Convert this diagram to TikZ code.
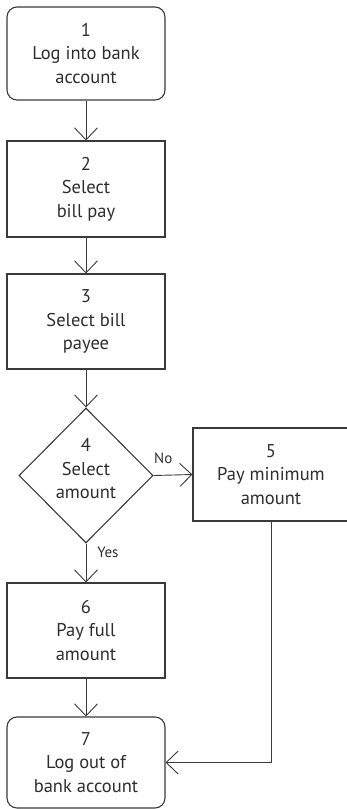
\documentclass[tikz,border=0pt]{standalone}
\usepackage{fontspec}
\setmainfont{PT Sans}
\usetikzlibrary{shapes.geometric,arrows.meta}
\definecolor{ink}{HTML}{3A3A3A}
\definecolor{txt}{HTML}{2E2E2E}
\begin{document}
\begin{tikzpicture}[x=1pt,y=-1pt,
  box/.style={draw=ink, line width=1.1pt, fill=white, minimum width=158pt, align=center,
    text=txt, font=\fontsize{18.5}{23.5}\selectfont, inner sep=0pt},
  rbox/.style={box, rounded corners=10pt},
  dbox/.style={draw=ink, line width=1.1pt, diamond, minimum width=134pt, minimum height=135pt, inner sep=0pt},
  dtext/.style={align=center, text=txt, font=\fontsize{18.5}{23.5}\selectfont, inner sep=0pt},
  conn/.style={draw=ink, line width=0.9pt, -{Straight Barb[length=12pt,width=23pt]}},
  lab/.style={text=txt, font=\fontsize{15}{18}\selectfont, inner sep=1pt}
]
\useasboundingbox (0,0) rectangle (347,809);
\clip (0,0) rectangle (347,809);
\node[rbox, minimum height=93pt] (n1) at (86,53.5) {1\\Log into bank\\account};
\node[box, minimum height=96pt] (n2) at (86,189) {2\\Select\\bill pay};
\node[box, minimum height=95pt] (n3) at (86,321.5) {3\\Select bill\\payee};
\node[dbox] (n4) at (86,475.5) {};
\node[dtext] (t4) at (86,469) {4\\Select\\amount};
\node[box, minimum width=156pt, minimum height=93pt] (n5) at (271,474.5) {5\\Pay minimum\\amount};
\node[box, minimum height=95pt] (n6) at (86,630.5) {6\\Pay full\\amount};
\node[rbox, minimum height=91pt] (n7) at (86,762.5) {7\\Log out of\\bank account};

\draw[conn] (n1.south) -- (n2.north);
\draw[conn] (n2.south) -- (n3.north);
\draw[conn] (n3.south) -- (n4.north);
\draw[conn] (n4.south) -- node[lab, pos=0.22, anchor=west, xshift=10pt] {Yes} (n6.north);
\draw[conn] (n4.east) -- node[lab, pos=0.25, anchor=south, yshift=10pt] {No} (n5.west);
\draw[conn] (n6.south) -- (n7.north);
\draw[conn] (n5.south) |- (n7.east);
\end{tikzpicture}
\end{document}
